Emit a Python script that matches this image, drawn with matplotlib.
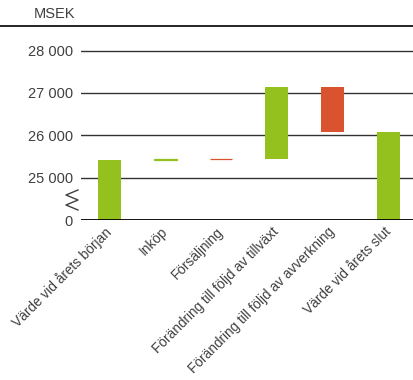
import numpy as np
import matplotlib
matplotlib.use("Agg")
import matplotlib.pyplot as plt
from matplotlib.lines import Line2D

plt.rcParams['font.family'] = ['Liberation Sans', 'DejaVu Sans']

categories = ["Värde vid årets början", "Inköp", "Försäljning",
              "Förändring till följd av tillväxt",
              "Förändring till följd av avverkning", "Värde vid årets slut"]
changes = [25410, 40, -15, 1710, -1065, 26080]   # MSEK
kinds = ["total", "delta", "delta", "delta", "delta", "total"]
yticks = [0, 25000, 26000, 27000, 28000]
ytick_labels = ["0", "25 000", "26 000", "27 000", "28 000"]

GREEN = "#95c11f"
RED = "#d9542e"
TXT = "#404040"


# broken axis: 0..25000 squeezed into one grid step
def fwd(v):
    v = np.asarray(v, dtype=float)
    return np.where(v >= 25000, v - 24000, v / 25.0)


def inv(u):
    u = np.asarray(u, dtype=float)
    return np.where(u >= 1000, u + 24000, u * 25.0)


# waterfall bottoms / heights
bottoms, heights, colors = [], [], []
level = 0
for c, k in zip(changes, kinds):
    if k == "total":
        bottoms.append(0)
        heights.append(c)
        level = c
        colors.append(GREEN)
    else:
        bottoms.append(level)
        heights.append(c)
        level += c
        colors.append(GREEN if c >= 0 else RED)

fig = plt.figure(figsize=(4.14, 3.8), dpi=100)
ax = fig.add_axes([81 / 414, 1 - 220 / 380, 1 - 81 / 414, (220 - 26) / 380])
ax.set_yscale('function', functions=(fwd, inv))

x = np.arange(len(categories))
# tiny changes get an outline so they still show as a thin line
lws = [0.9 if abs(h) < 100 else 0 for h in heights]
ax.bar(x, heights, bottom=bottoms, width=0.41, color=colors,
       edgecolor=colors, linewidth=lws, zorder=3)

ax.set_ylim(0, 28580)
ax.set_xlim(-0.51, 5.46)
ax.set_yticks(yticks)
ax.set_yticklabels(ytick_labels)
ax.yaxis.set_minor_locator(matplotlib.ticker.NullLocator())
for t in yticks[1:]:
    ax.axhline(t, color="#333333", lw=1.0, zorder=1)
ax.axhline(0, color="black", lw=1.3, zorder=4)

ax.set_xticks(x)
ax.set_xticklabels(categories, rotation=45, ha='right', va='center',
                   rotation_mode='anchor', fontsize=9.8)
ax.tick_params(axis='both', length=0, labelcolor=TXT)
ax.tick_params(axis='y', labelsize=10.5, pad=6)
ax.tick_params(axis='x', pad=7)
for s in ax.spines.values():
    s.set_visible(False)

# unit label and header rule
ax.text(-0.018, 1.025, "MSEK", transform=ax.transAxes, ha='right',
        va='bottom', fontsize=10.5, color=TXT)
fig.add_artist(Line2D([0, 1], [1 - 26 / 380] * 2, color="black", lw=1.2,
                      transform=fig.transFigure))

# zigzag break mark on the y axis
zx = np.array([78, 66, 78, 66, 78]) / 414
zy = 1 - np.array([190, 195, 200, 205, 210]) / 380
fig.add_artist(Line2D(zx, zy, color=TXT, lw=1.0, transform=fig.transFigure))

fig.savefig("out.png", dpi=100)
